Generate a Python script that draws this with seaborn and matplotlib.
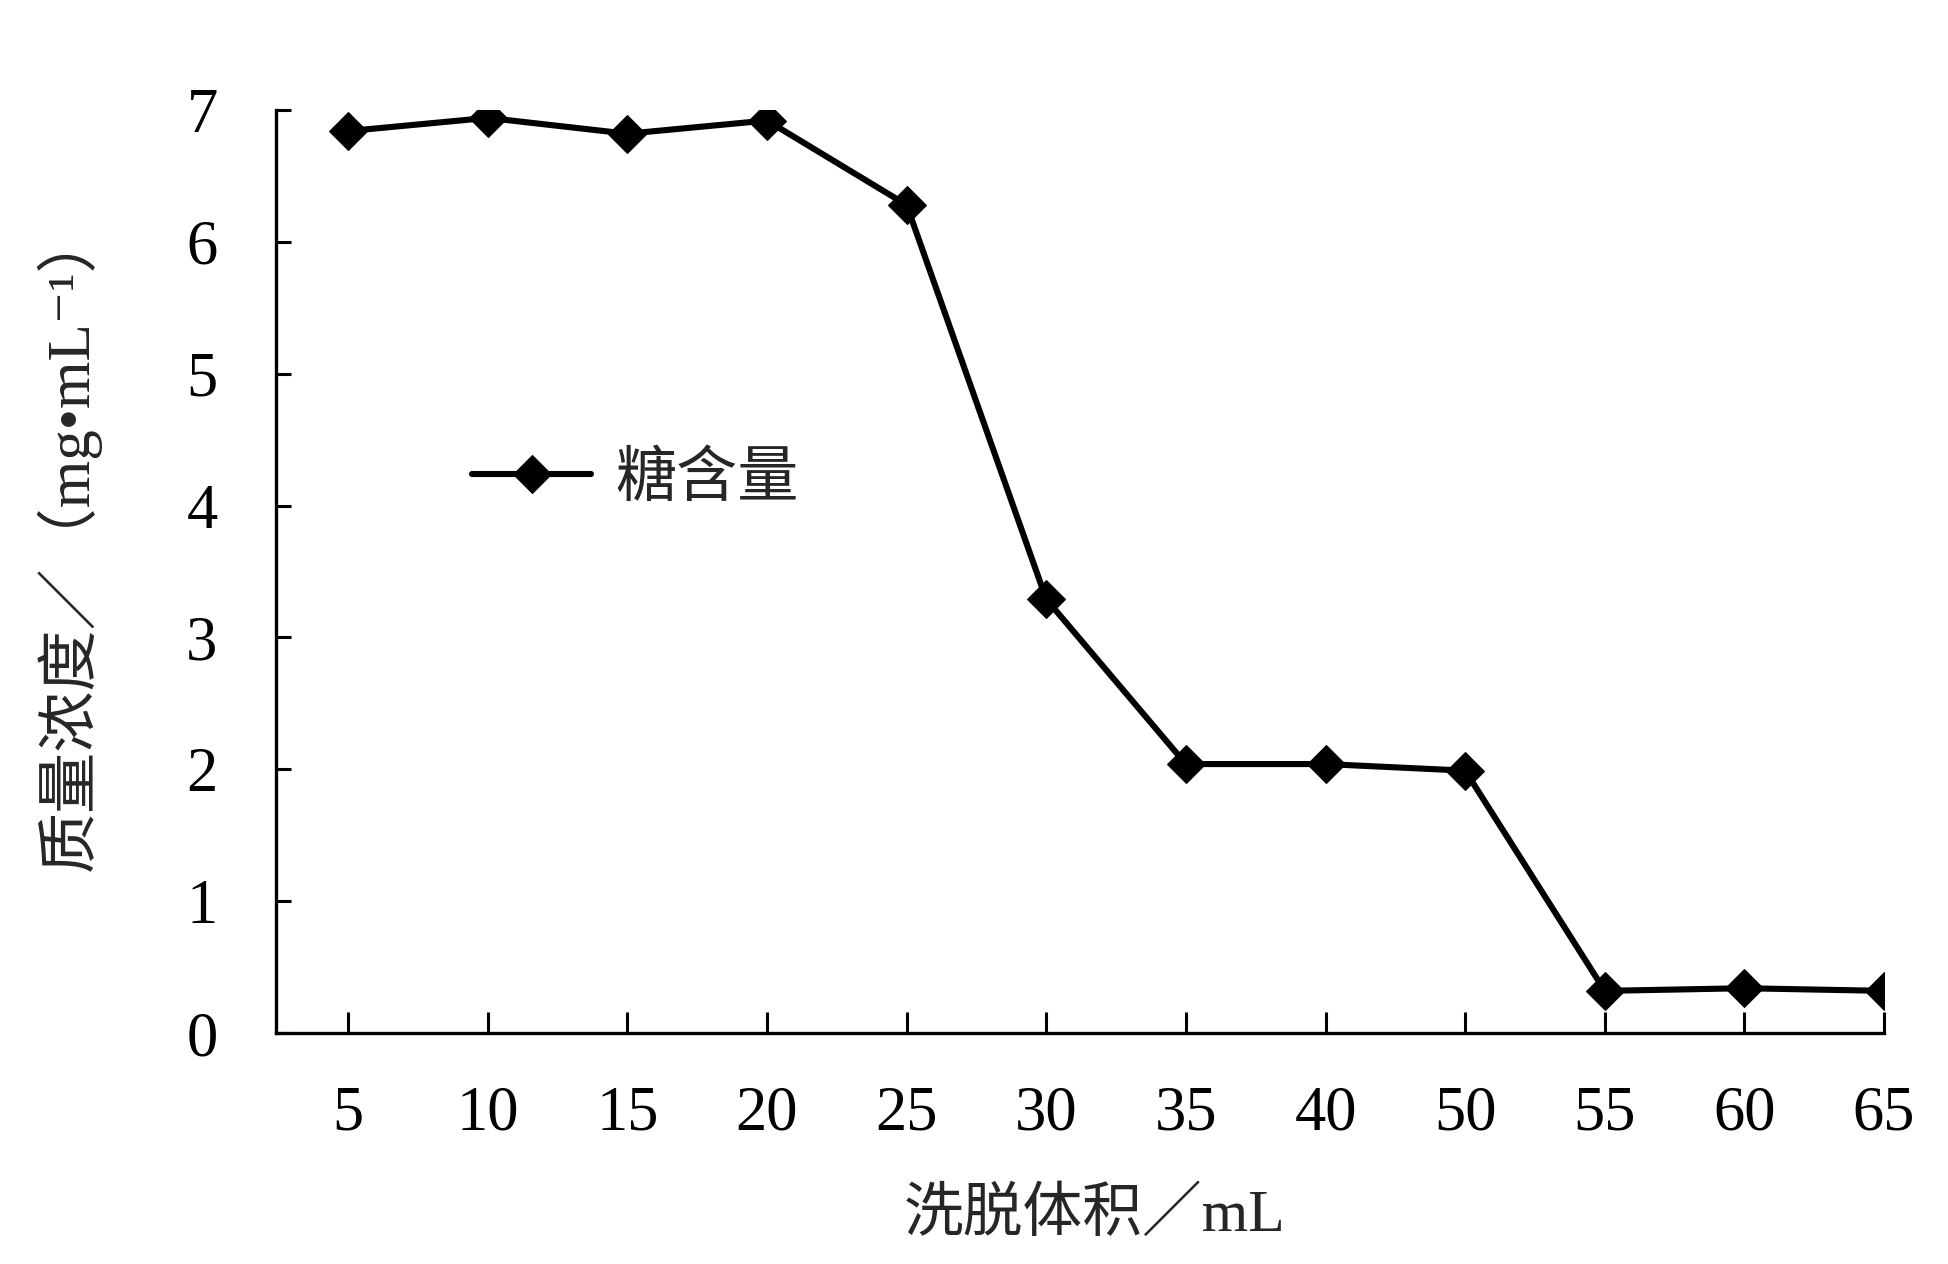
import matplotlib
matplotlib.use("Agg")
import matplotlib.pyplot as plt
import seaborn as sns
import numpy as np
import pandas as pd

volumes = ["5", "10", "15", "20", "25", "30", "35", "40", "50", "55", "60", "65"]
sugar = [6.84, 6.94, 6.82, 6.92, 6.28, 3.29, 2.04, 2.04, 1.99, 0.32, 0.34, 0.32]
yticks = [0, 1, 2, 3, 4, 5, 6, 7]
series_name = "糖含量"
xlabel = "洗脱体积／mL"
ylabel = "质量浓度／（mg•mL⁻¹）"

sns.set_style("white")
fam = ["Liberation Serif", "Noto Sans CJK SC", "DejaVu Sans"]
plt.rcParams["font.family"] = fam

df = pd.DataFrame({"vol": volumes, "sugar": sugar, "s": series_name})

fig = plt.figure(figsize=(19.49, 12.64), dpi=100)
ax = fig.add_axes([0.1416, 0.1827, 0.9667 - 0.1416, 0.913 - 0.1827])

sns.lineplot(data=df, x="vol", y="sugar", hue="s", palette=["black"], sort=False,
             marker="D", markersize=19, markeredgecolor="black", linewidth=4.4, ax=ax)

ax.set_xlim(-0.516, len(volumes) - 1)
ax.set_ylim(0, 7)
ax.set_yticks(yticks)
ax.set_yticklabels([str(v) for v in yticks])

for s in ["top", "right"]:
    ax.spines[s].set_visible(False)
for s in ["left", "bottom"]:
    ax.spines[s].set_linewidth(2.4)
    ax.spines[s].set_color("black")

ax.tick_params(axis="x", bottom=True, direction="in", length=15, width=2.2, pad=38,
               labelsize=45, colors="black")
ax.tick_params(axis="y", left=True, direction="in", length=11, width=2.2, pad=42,
               labelsize=45, colors="black")
for lab in ax.get_xticklabels() + ax.get_yticklabels():
    lab.set_family(fam)

ax.set_xlabel(xlabel, fontsize=43, family=fam, va="top")
ax.xaxis.set_label_coords(0.509, -0.168)
ax.set_ylabel(ylabel, fontsize=44, family=fam, va="center")
ax.yaxis.set_label_coords(-0.129, 0.535)

leg = ax.legend(loc="center left", bbox_to_anchor=(0.122, 0.599), frameon=False,
                borderpad=0, borderaxespad=0, handlelength=1.95, handletextpad=0.4,
                prop={"family": fam, "size": 44})

fig.savefig("out.png", dpi=100, facecolor="white")
